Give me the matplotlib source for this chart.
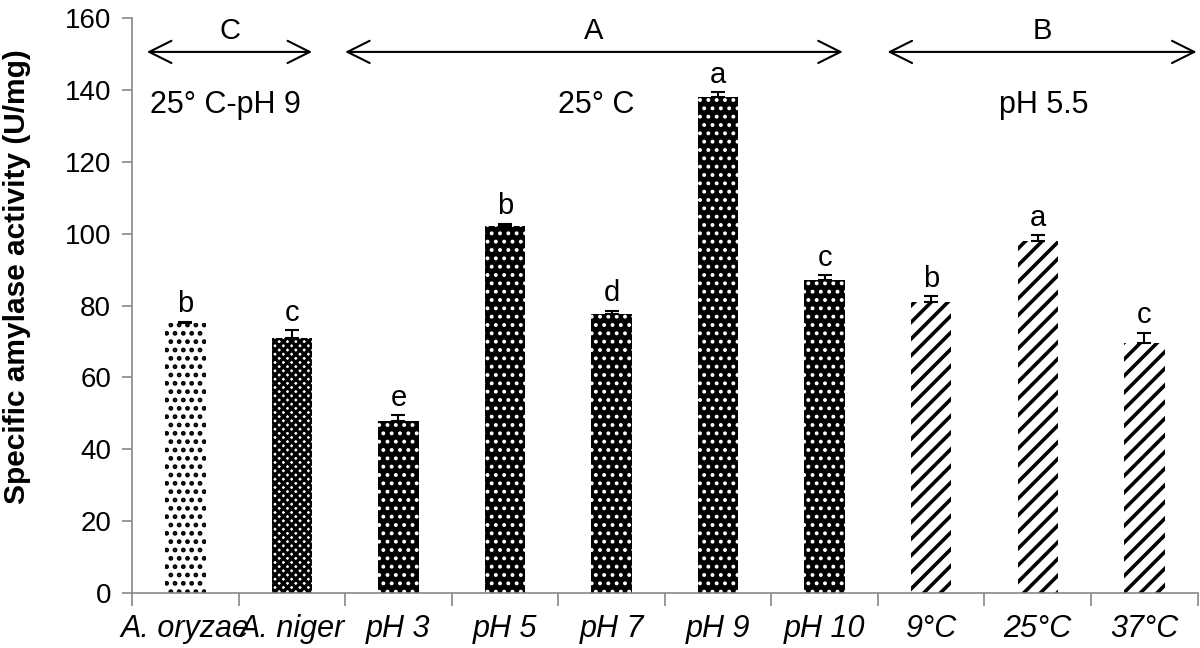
import numpy as np
import matplotlib
matplotlib.use("Agg")
import matplotlib.pyplot as plt

# data
categories = ["A. oryzae", "A. niger", "pH 3", "pH 5", "pH 7", "pH 9", "pH 10",
              "9°C", "25°C", "37°C"]
activity = [75.1, 70.9, 47.8, 102.2, 77.6, 138.0, 87.1, 81.0, 98.0, 69.6]
errors = [0.4, 2.2, 1.6, 0.6, 1.0, 1.4, 1.4, 1.6, 1.6, 2.8]
letters = ["b", "c", "e", "b", "d", "a", "c", "b", "a", "c"]
groups = ["oryzae", "niger", "ph", "ph", "ph", "ph", "ph", "temp", "temp", "temp"]

plt.rcParams['font.family'] = ['Liberation Sans', 'DejaVu Sans']

styles = {
    "oryzae": dict(facecolor="white", edgecolor="black", hatch="..", hlw=2.2),
    "niger": dict(facecolor="white", edgecolor="black", hatch="xxxx", hlw=2.4),
    "ph": dict(facecolor="black", edgecolor="white", hatch="..", hlw=1.6),
    "temp": dict(facecolor="white", edgecolor="black", hatch="//", hlw=2.6),
}

fig = plt.figure(figsize=(12, 6.48), dpi=100)
ax = fig.add_axes([0.11, 0.085, 0.888, 0.887])

x = np.arange(len(categories))
for i in x:
    st = styles[groups[i]]
    with plt.rc_context({'hatch.linewidth': st["hlw"], 'hatch.color': st["edgecolor"]}):
        bars = ax.bar(x[i], activity[i], width=0.38, color=st["facecolor"],
                      edgecolor=st["edgecolor"], hatch=st["hatch"], linewidth=0)
        for b in bars:
            if hasattr(b, "set_hatch_linewidth"):
                b.set_hatch_linewidth(st["hlw"])

ax.errorbar(x, activity, yerr=[np.zeros(len(x)), errors], fmt="none",
            ecolor="black", elinewidth=1.5, capsize=5, capthick=1.5)

for i in x:
    ax.text(x[i], activity[i] + errors[i] + 2.6, letters[i], ha="center",
            va="baseline", fontsize=21)

# group arrows and labels
arrow_y = 150.6
spans = [(-0.36, 1.19, "C"), (1.5, 6.17, "A"), (6.59, 9.49, "B")]
for x0, x1, lab in spans:
    ax.annotate("", xy=(x1, arrow_y), xytext=(x0, arrow_y),
                arrowprops=dict(arrowstyle="<->,head_length=1.6,head_width=0.8",
                                lw=1.5, color="black", shrinkA=0, shrinkB=0))
    ax.text((x0 + x1) / 2, arrow_y + 2, lab, ha="center", va="bottom",
            fontsize=21)
ax.text(-0.33, 133.6, "25° C-pH 9", ha="left", va="baseline", fontsize=22)
ax.text(3.86, 133.6, "25° C", ha="center", va="baseline", fontsize=22)
ax.text(8.06, 133.6, "pH 5.5", ha="center", va="baseline", fontsize=22)

ax.set_xlim(-0.5, 9.5)
ax.set_ylim(0, 160)
ax.set_yticks(np.arange(0, 161, 20))
ax.tick_params(axis="y", labelsize=20, length=7, pad=8, color="#888888", width=1.2)
ax.set_xticks(np.arange(-0.5, 9.6, 1))
ax.set_xticklabels([])
ax.tick_params(axis="x", which="major", length=9, color="#888888", width=1.2)
ax.set_xticks(x, minor=True)
ax.set_xticklabels(categories, minor=True, fontsize=22, style="italic")
ax.tick_params(axis="x", which="minor", length=0, pad=15)

for side in ["top", "right"]:
    ax.spines[side].set_visible(False)
for side in ["left", "bottom"]:
    ax.spines[side].set_color("#888888")
    ax.spines[side].set_linewidth(1.2)

ax.set_ylabel("Specific amylase activity (U/mg)", fontsize=21.5,
              fontweight="bold")
ax.yaxis.set_label_coords(-0.095, 0.55)

fig.savefig("out.png", dpi=100)
